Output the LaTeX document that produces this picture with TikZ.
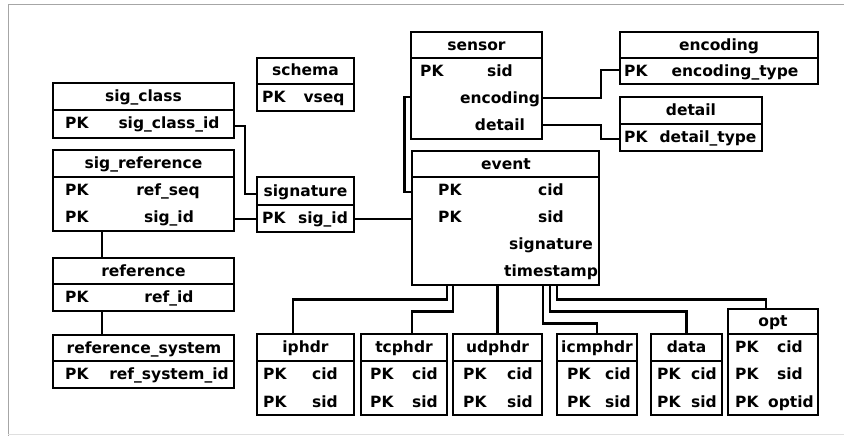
\documentclass[tikz,border=0pt]{standalone}
\usepackage{fontspec}
\setmainfont{DejaVu Sans}
\usetikzlibrary{fit}

\begin{document}
\begin{tikzpicture}[x=1pt, y=-1pt,
            tbl/.style={draw, line width=1.6pt, inner sep=0pt},
            divline/.style={line width=1.6pt},
            txt/.style={font=\bfseries\fontsize{15.5}{18}\selectfont, inner sep=0pt, anchor=base},
            pk/.style={txt, anchor=base west},
            rel/.style={line width=2.6pt}
        ]
            \useasboundingbox (0,0) rectangle (844,438);
            % frame
            \draw[gray!70, line width=1pt] (844,5) -- (8,5) -- (8,436);
            \draw[gray!25, line width=1pt] (8,435) -- (844,435);

            % sig_class / sig_reference
            \node[tbl, fit={(53,83) (234,138)}] (sigclass) {};
            \draw[divline] (sigclass.west |- 0,110) -- (sigclass.east |- 0,110);
            \node[txt] (sigclass-t) at (143.5,102) {sig\_class};
            \node[pk] (sigclass-pk) at (65,129) {PK};
            \node[txt] (sigclass-id) at (169,129) {sig\_class\_id};

            \node[tbl, fit={(53,150) (234,231)}] (sigref) {};
            \draw[divline] (sigref.west |- 0,177) -- (sigref.east |- 0,177);
            \node[txt] (sigref-t) at (143.5,169) {sig\_reference};
            \node[pk] (sigref-pk1) at (65,196) {PK};
            \node[txt] (sigref-seq) at (168,196) {ref\_seq};
            \node[pk] (sigref-pk2) at (65,223) {PK};
            \node[txt] (sigref-id) at (169,223) {sig\_id};

            % reference / reference_system
            \node[tbl, fit={(53,258) (234,311)}] (reference) {};
            \draw[divline] (reference.west |- 0,284) -- (reference.east |- 0,284);
            \node[txt] (reference-t) at (143.5,276.5) {reference};
            \node[pk] (reference-pk) at (65,303) {PK};
            \node[txt] (reference-id) at (169,303) {ref\_id};

            \node[tbl, fit={(53,335) (234,388)}] (refsys) {};
            \draw[divline] (refsys.west |- 0,361) -- (refsys.east |- 0,361);
            \node[txt] (refsys-t) at (144,353.5) {reference\_system};
            \node[pk] (refsys-pk) at (65,380) {PK};
            \node[txt] (refsys-id) at (169,380) {ref\_system\_id};

            % schema / signature
            \node[tbl, fit={(257,58) (354,111)}] (schema) {};
            \draw[divline] (schema.west |- 0,84) -- (schema.east |- 0,84);
            \node[txt] (schema-t) at (305.5,76) {schema};
            \node[pk] (schema-pk) at (262,102.5) {PK};
            \node[txt] (schema-vseq) at (324,102.5) {vseq};

            \node[tbl, fit={(257,177) (354,232)}] (signature) {};
            \draw[divline] (signature.west |- 0,205) -- (signature.east |- 0,205);
            \node[txt] (signature-t) at (305.5,196.5) {signature};
            \node[pk] (signature-pk) at (262,224) {PK};
            \node[txt] (signature-id) at (323,224) {sig\_id};

            % sensor / encoding / detail
            \node[tbl, fit={(411,32) (542,139)}] (sensor) {};
            \draw[divline] (sensor.west |- 0,58) -- (sensor.east |- 0,58);
            \node[txt] (sensor-t) at (476.5,50.5) {sensor};
            \node[pk] (sensor-pk) at (420,77) {PK};
            \node[txt] (sensor-sid) at (500,77) {sid};
            \node[txt] (sensor-enc) at (500,104) {encoding};
            \node[txt] (sensor-det) at (500,131) {detail};

            \node[tbl, fit={(620,32) (818,84)}] (encoding) {};
            \draw[divline] (encoding.west |- 0,58) -- (encoding.east |- 0,58);
            \node[txt] (encoding-t) at (719,50.5) {encoding};
            \node[pk] (encoding-pk) at (624,77) {PK};
            \node[txt] (encoding-type) at (735,77) {encoding\_type};

            \node[tbl, fit={(620,97) (762,151)}] (detail) {};
            \draw[divline] (detail.west |- 0,124) -- (detail.east |- 0,124);
            \node[txt] (detail-t) at (691,116) {detail};
            \node[pk] (detail-pk) at (624,143) {PK};
            \node[txt] (detail-type) at (708,143) {detail\_type};

            % event
            \node[tbl, fit={(412,151) (599,285)}] (event) {};
            \draw[divline] (event.west |- 0,177) -- (event.east |- 0,177);
            \node[txt] (event-t) at (506,169.5) {event};
            \node[pk] (event-pk1) at (438,196) {PK};
            \node[txt] (event-cid) at (551,196) {cid};
            \node[pk] (event-pk2) at (438,223) {PK};
            \node[txt] (event-sid) at (551,223) {sid};
            \node[txt] (event-sig) at (551,250) {signature};
            \node[txt] (event-ts) at (551,277) {timestamp};

            % header tables
            \node[tbl, fit={(257,334) (354,415)}] (iphdr) {};
            \draw[divline] (iphdr.west |- 0,361) -- (iphdr.east |- 0,361);
            \node[txt] (iphdr-t) at (305.5,353) {iphdr};
            \node[pk] (iphdr-pk1) at (263,380) {PK};
            \node[txt] (iphdr-cid) at (325,380) {cid};
            \node[pk] (iphdr-pk2) at (263,407) {PK};
            \node[txt] (iphdr-sid) at (325,407) {sid};

            \node[tbl, fit={(361,334) (447,415)}] (tcphdr) {};
            \draw[divline] (tcphdr.west |- 0,361) -- (tcphdr.east |- 0,361);
            \node[txt] (tcphdr-t) at (404,353) {tcphdr};
            \node[pk] (tcphdr-pk1) at (370,380) {PK};
            \node[txt] (tcphdr-cid) at (425,380) {cid};
            \node[pk] (tcphdr-pk2) at (370,407) {PK};
            \node[txt] (tcphdr-sid) at (425,407) {sid};

            \node[tbl, fit={(453,334) (542,415)}] (udphdr) {};
            \draw[divline] (udphdr.west |- 0,361) -- (udphdr.east |- 0,361);
            \node[txt] (udphdr-t) at (497.5,353) {udphdr};
            \node[pk] (udphdr-pk1) at (463,380) {PK};
            \node[txt] (udphdr-cid) at (520,380) {cid};
            \node[pk] (udphdr-pk2) at (463,407) {PK};
            \node[txt] (udphdr-sid) at (520,407) {sid};

            \node[tbl, fit={(557,334) (637,415)}] (icmphdr) {};
            \draw[divline] (icmphdr.west |- 0,361) -- (icmphdr.east |- 0,361);
            \node[txt] (icmphdr-t) at (597,353) {icmphdr};
            \node[pk] (icmphdr-pk1) at (567,380) {PK};
            \node[txt] (icmphdr-cid) at (618,380) {cid};
            \node[pk] (icmphdr-pk2) at (567,407) {PK};
            \node[txt] (icmphdr-sid) at (618,407) {sid};

            \node[tbl, fit={(651,334) (722,415)}] (data) {};
            \draw[divline] (data.west |- 0,361) -- (data.east |- 0,361);
            \node[txt] (data-t) at (686.5,353) {data};
            \node[pk] (data-pk1) at (657,380) {PK};
            \node[txt] (data-cid) at (704,380) {cid};
            \node[pk] (data-pk2) at (657,407) {PK};
            \node[txt] (data-sid) at (704,407) {sid};

            \node[tbl, fit={(728,309) (818,415)}] (opt) {};
            \draw[divline] (opt.west |- 0,334) -- (opt.east |- 0,334);
            \node[txt] (opt-t) at (773,326.5) {opt};
            \node[pk] (opt-pk1) at (735,353) {PK};
            \node[txt] (opt-cid) at (790,353) {cid};
            \node[pk] (opt-pk2) at (735,380) {PK};
            \node[txt] (opt-sid) at (790,380) {sid};
            \node[pk] (opt-pk3) at (735,407) {PK};
            \node[txt] (opt-optid) at (791,407) {optid};

            % relations
            \draw[rel] (sigclass.east |- 0,126) -- ++(10,0) |- (signature.west |- 0,194);
            \draw[rel] (sigref.east |- 0,219) -- (signature.west |- 0,219);
            \draw[rel] (signature.east |- 0,219) -- (event.west |- 0,219);
            \draw[rel] (sigref.south -| 102,0) -- (reference.north -| 102,0);
            \draw[rel] (reference.south -| 102,0) -- (refsys.north -| 102,0);
            \draw[rel] (sensor.west |- 0,97) -- ++(-6,0) |- (event.west |- 0,192);
            \draw[rel] (sensor.east |- 0,98) -- ++(58,0) |- (encoding.west |- 0,70);
            \draw[rel] (sensor.east |- 0,125) -- ++(58,0) |- (detail.west |- 0,139);

            \draw[rel] (event.south -| 447,0) -- ++(0,14) -| (iphdr.north -| 293,0);
            \draw[rel] (event.south -| 453,0) -- ++(0,26) -| (tcphdr.north -| 412,0);
            \draw[rel] (event.south -| udphdr.north) -- (udphdr.north);
            \draw[rel] (event.south -| 543,0) -- ++(0,38) -| (icmphdr.north);
            \draw[rel] (event.south -| 550,0) -- ++(0,26) -| (data.north);
            \draw[rel] (event.south -| 557,0) -- ++(0,14) -| (opt.north -| 766,0);
        \end{tikzpicture}
\end{document}
